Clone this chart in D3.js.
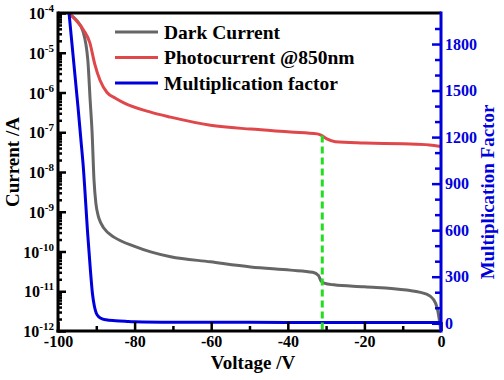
<!DOCTYPE html>
<html><head><meta charset="utf-8">
<script src="https://cdn.jsdelivr.net/npm/d3@7"></script>
<style>
body{margin:0;background:#fff}
svg text{font-family:'Liberation Serif','Times New Roman',Tinos,'Nimbus Roman','DejaVu Serif',serif !important;font-weight:bold}
</style>
</head><body>
<svg id="c" width="504" height="380" font-family="Liberation Serif"></svg>
<script>
// ---- data ----
const darkV = [-97.1,-95,-93.5,-92.2,-91.6,-91.1,-90.6,-90.1,-89.5,-88.8,-87,-85.4,-80,-75.8,-70.6,-60.2,-49.7,-39.3,-33.5,-32,-31.3,-30.5,-28,-20,-9,-3.6,-2,-1,-0.5,-0.1];
const darkI = [9.5e-5,6.3e-5,3.5e-5,6.3e-6,6.3e-7,1.0e-7,6.3e-9,1.6e-9,7.9e-10,5.2e-10,3.0e-10,2.3e-10,1.35e-10,9.8e-11,7.4e-11,5.5e-11,4.1e-11,3.4e-11,3.0e-11,2.5e-11,1.8e-11,1.6e-11,1.45e-11,1.3e-11,1.07e-11,8.3e-12,6.3e-12,3.8e-12,2.1e-12,1.1e-12];
const photoV = [-97.1,-95.3,-93.3,-91.7,-90.4,-89,-87.2,-85,-82.8,-75.8,-70.6,-60.2,-49.7,-39.3,-32.3,-31.2,-29.8,-27.6,-20,-10,-3,0];
const photoI = [9.5e-5,6.6e-5,3.7e-5,1.8e-5,5.2e-6,2.0e-6,1.0e-6,7.2e-7,5.5e-7,3.2e-7,2.4e-7,1.5e-7,1.2e-7,1.02e-7,9.1e-8,8.3e-8,6.8e-8,5.8e-8,5.4e-8,5.1e-8,4.8e-8,4.4e-8];
const multV = [-97.1,-94.8,-93.9,-93.5,-92.2,-91.5,-91,-90.5,-90,-89.5,-88.8,-87.5,-85,-82,-80,-70,-50,-30,-10,0];
const multM = [1995,1400,1150,1040,560,330,190,110,65,45,32,22,16,12,10,7,6,5,5,5];
const markerV = [-31];
const markerTopI = [8.3e-8];
const xTicksMajor = [-100,-80,-60,-40,-20,0];
const xTicksMinor = [-90,-70,-50,-30,-10];
const yExponents = [-12,-11,-10,-9,-8,-7,-6,-5,-4];
const y2Major = [0,300,600,900,1200,1500,1800];
const y2Minor = [100,200,400,500,700,800,1000,1100,1300,1400,1600,1700,1900];
const legendLabels = ["Dark Current","Photocurrent @850nm","Multiplication factor"];
const colors = ["#666666","#e0474a","#0000dd"];

// ---- layout ----
const FONT = "'Liberation Serif','Times New Roman',Tinos,'Nimbus Roman','DejaVu Serif',serif";
const L=58, R=441, T=13, B=331;
const svg = d3.select("#c");
const x = d3.scaleLinear().domain([-100,0]).range([L,R]);
const y = d3.scaleLog().domain([1e-12,1e-4]).range([B,T]);
const y2 = d3.scaleLinear().domain([-50,2000]).range([B,T]);

svg.append("defs").append("clipPath").attr("id","pc")
  .append("rect").attr("x",L).attr("y",T).attr("width",R-L).attr("height",B-T);

// curves
const g = svg.append("g").attr("clip-path","url(#pc)");
const lineI = d3.line().x(d=>x(d[0])).y(d=>y(d[1])).curve(d3.curveMonotoneX);
const lineM = d3.line().x(d=>x(d[0])).y(d=>y2(d[1])).curve(d3.curveMonotoneX);
g.append("path").datum(darkV.map((v,i)=>[v,darkI[i]])).attr("d",lineI)
  .attr("fill","none").attr("stroke",colors[0]).attr("stroke-width",3);
g.append("path").datum(photoV.map((v,i)=>[v,photoI[i]])).attr("d",lineI)
  .attr("fill","none").attr("stroke",colors[1]).attr("stroke-width",3);
g.append("path").datum(multV.map((v,i)=>[v,multM[i]])).attr("d",lineM)
  .attr("fill","none").attr("stroke",colors[2]).attr("stroke-width",3);
// green marker
g.selectAll("line.mk").data(markerV).enter().append("line")
  .attr("x1",d=>x(d)).attr("x2",d=>x(d))
  .attr("y1",(d,i)=>y(markerTopI[i])).attr("y2",B)
  .attr("stroke","#22dd22").attr("stroke-width",3).attr("stroke-dasharray","7,4");

// bottom axis
const ax = svg.append("g").attr("class","axb").attr("transform",`translate(0,${B})`)
  .call(d3.axisBottom(x).tickValues(xTicksMajor).tickSize(-9).tickPadding(4).tickFormat(d3.format("d")));
svg.append("g").attr("class","axb").attr("transform",`translate(0,${B})`)
  .call(d3.axisBottom(x).tickValues(xTicksMinor).tickSize(-5).tickFormat(""));
ax.selectAll("text").attr("font-size",16).attr("fill","#000").attr("dy","0.75em")
  .text(d=>d===0?"0":String(d).replace("\u2212","-"));

// left axis
svg.append("g").attr("class","axl").attr("transform",`translate(${L},0)`)
  .call(d3.axisLeft(y).tickValues(yExponents.map(e=>Math.pow(10,e))).tickSize(-8).tickFormat(""));
const minors=[];
yExponents.slice(0,-1).forEach(e=>{for(let k=2;k<=9;k++) minors.push(k*Math.pow(10,e));});
svg.append("g").attr("class","axl").attr("transform",`translate(${L},0)`)
  .call(d3.axisLeft(y).tickValues(minors).tickSize(-4).tickFormat(""));
const yl = svg.append("g");
yExponents.forEach(e=>{
  const t = yl.append("text").attr("x",L-4).attr("y",y(Math.pow(10,e))+6)
    .attr("text-anchor","end").attr("font-size",16).attr("fill","#000");
  t.append("tspan").text("10");
  t.append("tspan").attr("dy",-7).attr("font-size",11).text("-"+Math.abs(e));
});

// right axis
const rg = svg.append("g").attr("class","axr").attr("transform",`translate(${R},0)`)
  .call(d3.axisRight(y2).tickValues(y2Major).tickSize(-9).tickPadding(4).tickFormat(d3.format("d")));
svg.append("g").attr("class","axr").attr("transform",`translate(${R},0)`)
  .call(d3.axisRight(y2).tickValues(y2Minor).tickSize(-6).tickFormat(""));
rg.selectAll("text").attr("font-size",16).attr("fill","#0000dd").attr("x",4);

// style axes
svg.selectAll(".domain").remove();
svg.selectAll(".axb,.axl,.axr").attr("font-family",FONT);
svg.selectAll(".tick line").attr("stroke-width",2.5).attr("stroke","#000");
svg.selectAll(".axr .tick line").attr("stroke","#0000dd");
// frame lines
svg.append("line").attr("x1",L).attr("x2",R).attr("y1",T).attr("y2",T).attr("stroke","#000").attr("stroke-width",3);
svg.append("line").attr("x1",L-1.5).attr("x2",R).attr("y1",B).attr("y2",B).attr("stroke","#000").attr("stroke-width",3);
svg.append("line").attr("x1",L).attr("x2",L).attr("y1",T-1.5).attr("y2",B+1.5).attr("stroke","#000").attr("stroke-width",3);
svg.append("line").attr("x1",R).attr("x2",R).attr("y1",T-1.5).attr("y2",B+1.5).attr("stroke","#0000dd").attr("stroke-width",3);

// titles
svg.append("text").attr("x",253).attr("y",369).attr("text-anchor","middle").attr("font-size",19).text("Voltage /V");
svg.append("text").attr("transform","translate(19,162) rotate(-90)").attr("text-anchor","middle").attr("font-size",19).text("Current /A");
svg.append("text").attr("transform","translate(494,192) rotate(-90)").attr("text-anchor","middle").attr("font-size",19).attr("fill","#0000dd").text("Multiplication Factor");

// legend
const leg = svg.append("g");
legendLabels.forEach((lab,i)=>{
  const yy = 32 + i*25.5;
  leg.append("line").attr("x1",115).attr("x2",158).attr("y1",yy).attr("y2",yy).attr("stroke",colors[i]).attr("stroke-width",3);
  leg.append("text").attr("x",164).attr("y",yy+6.5).attr("font-size",19.5).attr("fill","#000").text(lab);
});
svg.selectAll("text").attr("font-family",FONT);
</script>
</body></html>
